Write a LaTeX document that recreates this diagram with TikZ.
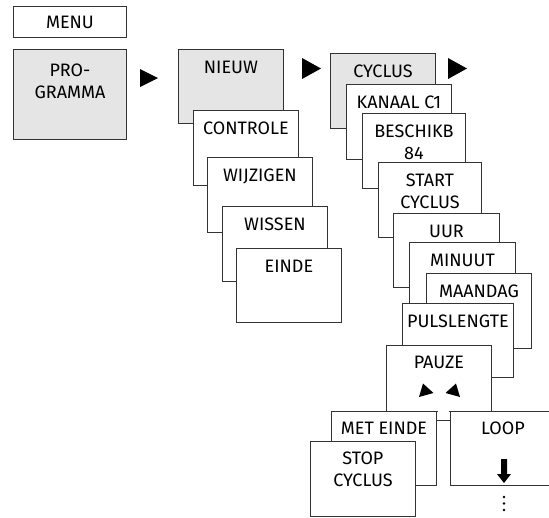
\documentclass[tikz,border=0pt]{standalone}
\usepackage{fontspec}
\setmainfont{Fira Sans}
\usetikzlibrary{calc}

\tikzset{
  box/.style={draw=black!80, line width=0.9pt, fill=white, anchor=north west,
    minimum width=105pt, minimum height=75pt, inner sep=0pt},
  active/.style={box, fill=gray!20},
  caption/.style={anchor=base, align=center, inner sep=0pt,
    font=\fontsize{18}{22}\selectfont},
  pointer/.style={fill=black}
}

\begin{document}
\begin{tikzpicture}[x=1pt, y=-1pt]
  \clip (0,0) rectangle (549,517);
  % hoofdmenu
  \node[box, minimum width=113pt, minimum height=31pt] (menu) at (13,6) {};
  \node[caption] (menu-t) at ([yshift=-22pt]menu.north) {MENU};
  \node[active, minimum width=113pt, minimum height=90pt] (prog) at (13,49) {};
  \node[caption] (prog-t) at ([yshift=-49pt]prog.north) {PRO-\\GRAMMA};
  \fill[pointer] (140,69) -- (158,78) -- (140,87) -- cycle;

  % programma
  \node[active, minimum height=74pt] (nieuw) at (178,49) {};
  \node[caption] (nieuw-t) at ([yshift=-24pt]nieuw.north) {NIEUW};
  \node[box] (contr) at (193,110) {};
  \node[caption] (contr-t) at ([yshift=-24pt]contr.north) {CONTROLE};
  \node[box] (wijz) at (207,157) {};
  \node[caption] (wijz-t) at ([yshift=-24pt]wijz.north) {WIJZIGEN};
  \node[box] (wiss) at (222,206) {};
  \node[caption] (wiss-t) at ([yshift=-24pt]wiss.north) {WISSEN};
  \node[box, minimum height=74pt] (einde) at (236,248) {};
  \node[caption] (einde-t) at ([yshift=-24pt]einde.north) {EINDE};
  \fill[pointer] (302,58) -- (321,68.5) -- (302,79) -- cycle;

  % nieuw
  \node[active] (cycl) at (330,53) {};
  \node[caption] (cycl-t) at ([yshift=-24pt]cycl.north) {CYCLUS};
  \fill[pointer] (448,58) -- (467,68.5) -- (448,79) -- cycle;
  \node[box] (kan) at (346,84) {};
  \node[caption] (kan-t) at ([yshift=-24pt]kan.north) {KANAAL C1};
  \node[box, minimum width=103pt] (besch) at (362,113) {};
  \node[caption] (besch-t) at ([yshift=-46pt]besch.north) {BESCHIKB\\84};
  \node[box, minimum width=103pt] (start) at (378,162) {};
  \node[caption] (start-t) at ([yshift=-46pt]start.north) {START\\CYCLUS};
  \node[box, minimum width=106pt, minimum height=74pt] (uur) at (393,213) {};
  \node[caption] (uur-t) at ([yshift=-24pt]uur.north) {UUR};
  \node[box, minimum width=106pt] (min) at (409,242) {};
  \node[caption] (min-t) at ([yshift=-24pt]min.north) {MINUUT};
  \node[box] (dag) at (426,273) {};
  \node[caption] (dag-t) at ([yshift=-24pt]dag.north) {MAANDAG};
  \node[box, minimum width=111pt, minimum height=74pt] (puls) at (402,303) {};
  \node[caption] (puls-t) at ([yshift=-24pt]puls.north) {PULSLENGTE};
  \node[box, minimum height=66pt] (pauze) at (386,345) {};
  \node[caption] (pauze-t) at ([yshift=-23pt]pauze.north) {PAUZE};
  \fill[pointer] (419,397) -- (423,383.5) -- (433.5,393) -- cycle;
  \fill[pointer] (460,397) -- (456,383.5) -- (445.5,393) -- cycle;

  % einde van de cyclus
  \node[box, minimum height=74pt] (met) at (331,411) {};
  \node[caption] (met-t) at ([yshift=-23pt]met.north) {MET EINDE};
  \node[box, minimum height=74pt] (loop) at (450,411) {};
  \node[caption] (loop-t) at ([yshift=-23pt]loop.north) {LOOP};
  \fill[white] ($(met.north east)+(0.6,-1)$) rectangle ($(loop.north west)+(-0.6,1)$);
  \draw[black!80, line width=0.9pt] ($(met.north east)+(0,9)$) -- ($(loop.north west)+(0,9)$);
  \node[box] (stop) at (310,441) {};
  \node[caption] (stop-t) at ([yshift=-45pt]stop.north) {STOP\\CYCLUS};
  \fill[pointer] (501,459) -- (507,459) -- (507,474) -- (511,474) -- (504,483)
    -- (497,474) -- (501,474) -- cycle;
  \foreach \y in {497,503.5,510}
    \fill[pointer] (504,\y) circle (1.3pt);
\end{tikzpicture}
\end{document}
